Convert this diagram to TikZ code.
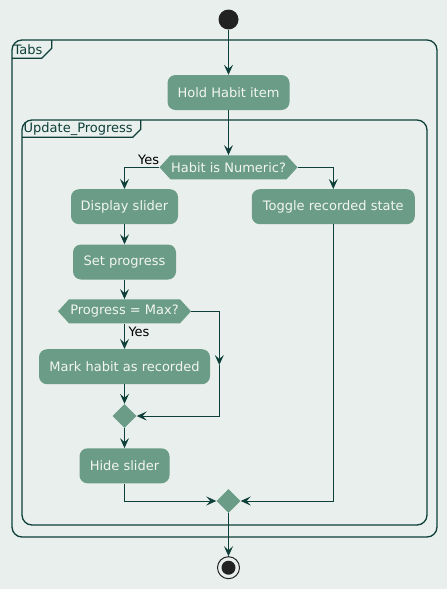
\documentclass[tikz,border=0pt]{standalone}
\usepackage{fontspec}
\setmainfont{DejaVu Sans}
\usetikzlibrary{arrows.meta,shapes.geometric}
\definecolor{bg}{HTML}{E9EFEC}
\definecolor{nodefill}{HTML}{6A9C87}
\definecolor{ln}{HTML}{0E3F39}
\definecolor{ntext}{HTML}{F2F5F3}
\definecolor{dot}{HTML}{222222}
\begin{document}
\begin{tikzpicture}[x=1pt,y=-1pt,
  act/.style={fill=nodefill, rounded corners=8pt, text=ntext, font=\fontsize{13}{15}\selectfont, inner sep=0pt, minimum height=35pt},
  hex/.style={inner sep=0pt, minimum height=24pt, text=ntext, font=\fontsize{13}{15}\selectfont,
    path picture={\fill[nodefill] (path picture bounding box.west) -- ([xshift=11pt]path picture bounding box.north west) -- ([xshift=-11pt]path picture bounding box.north east) -- (path picture bounding box.east) -- ([xshift=-11pt]path picture bounding box.south east) -- ([xshift=11pt]path picture bounding box.south west) -- cycle;}},
  merge/.style={diamond, fill=nodefill, inner sep=0pt, minimum width=24pt, minimum height=24pt},
  frame/.style={draw=ln, line width=1.3pt, rounded corners=10pt},
  framelabel/.style={font=\fontsize{13}{15}\selectfont, text=ln, inner sep=0pt, anchor=west},
  lbl/.style={font=\fontsize{13}{15}\selectfont, text=black, inner sep=0pt},
  conn/.style={draw=ln, line width=1pt},
  arr/.style={conn, -{Stealth[length=10pt, width=9pt, inset=4pt]}}
]
\useasboundingbox[fill=bg] (0,0) rectangle (447,589);

% frames
\draw[frame] (12,40) rectangle (437,537);
\draw[ln, line width=1.3pt] (12,58.3) -- (41.7,58.3) -- (51.7,48.3) -- (51.7,40);
\node[framelabel] (ftabs) at (13.5,49.5) {Tabs};
\draw[frame] (22,120) rectangle (427,525);
\draw[ln, line width=1.3pt] (22,137.3) -- (132.7,137.3) -- (140.7,129.3) -- (140.7,120);
\node[framelabel] (fupd) at (23.5,129) {Update\_Progress};

% nodes
\node[circle, fill=dot, minimum size=20pt, inner sep=0pt] (start) at (228.5,19.5) {};
\node[act, minimum width=122pt] (hold) at (228.5,92.5) {Hold Habit item};
\node[hex, minimum width=138pt] (habit) at (228.5,167.3) {Habit is Numeric?};
\node[act, minimum width=107pt] (disp) at (124.5,206.7) {Display slider};
\node[act, minimum width=163pt] (toggle) at (333.3,206.7) {Toggle recorded state};
\node[act, minimum width=103pt] (setp) at (124.5,262) {Set progress};
\node[hex, minimum width=133pt] (prog) at (124.5,311.3) {Progress = Max?};
\node[act, minimum width=171pt] (mark) at (124.5,366.7) {Mark habit as recorded};
\node[merge] (m1) at (124.5,416) {};
\node[act, minimum width=90pt] (hide) at (124.5,465.8) {Hide slider};
\node[merge] (m2) at (228.5,501) {};
\node[circle, draw=dot, line width=1pt, fill=bg, minimum size=22pt, inner sep=0pt] (end) at (228.5,567.7) {};
\fill[dot] (end.center) circle (7pt);

\node[lbl, anchor=east] (yes1) at (159.3,160) {Yes};
\node[lbl, anchor=west] (yes2) at (128.3,331.7) {Yes};

\coordinate (c1) at (219.3,311.3);
\coordinate (c1m) at (219.3,365);
\coordinate (c2) at (219.3,416);

% connectors
\draw[arr] (start) -- (hold);
\draw[arr] (hold) -- (habit);
\draw[arr] (habit.west) -| (disp.north);
\draw[arr] (habit.east) -| (toggle.north);
\draw[arr] (disp) -- (setp);
\draw[arr] (setp) -- (prog);
\draw[arr] (prog) -- (mark);
\draw[arr] (mark) -- (m1);
\draw[arr] (prog.east) -- (c1) -- (c1m);
\draw[arr] (c1m) -- (c2) -- (m1.east);
\draw[arr] (m1) -- (hide);
\draw[arr] (hide.south) |- (m2.west);
\draw[arr] (toggle.south) |- (m2.east);
\draw[arr] (m2) -- (end);
\end{tikzpicture}
\end{document}
